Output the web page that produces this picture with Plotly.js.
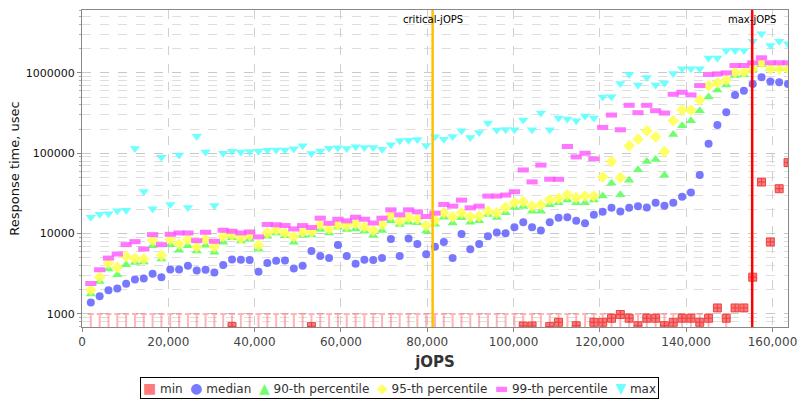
<!DOCTYPE html>
<html>
<head>
<meta charset="utf-8">
<script src="https://cdn.plot.ly/plotly-3.0.1.min.js"></script>
<style>
  body { margin: 0; background: white; }
  #rt_chart { width: 800px; height: 400px; }
</style>
</head>
<body>
<div id="rt_chart"></div>
<script>
// jOPS steps (x axis)
let jops = [2045, 4090, 6135, 8180, 10225, 12270, 14315, 16360, 18405, 20450,
  22495, 24540, 26585, 28630, 30675, 32720, 34765, 36810, 38855, 40900,
  42945, 44990, 47035, 49080, 51125, 53170, 55215, 57260, 59305, 61350,
  63395, 65440, 67485, 69530, 71575, 73620, 75665, 77710, 79755, 81800,
  83845, 85890, 87935, 89980, 92025, 94070, 96115, 98160, 100205, 102250,
  104295, 106340, 108385, 110430, 112475, 114520, 116565, 118610, 120655, 122700,
  124745, 126790, 128835, 130880, 132925, 134970, 137015, 139060, 141105, 143150,
  145195, 147240, 149285, 151330, 153375, 155420, 157465, 159510, 161555, 163600];

// min response times, null = below the visible range
let minRt = [null, null, null, null, null, null, null, null, null, null,
  null, null, null, null, null, null, 700, null, null, null,
  null, null, null, null, null, 700, null, null, null, null,
  null, null, null, null, null, null, null, null, null, null,
  null, null, null, null, null, null, null, null, null, 710,
  710, null, 700, 788, null, 715, null, 788, 788, 885,
  985, 885, 715, 885, 885, 715, 788, 885, 885, 788,
  885, 1190, 885, 1190, 1190, 2870, 43800, 7870, 36200, 76400];

let medianRt = [1386, 1663, 1976, 2073, 2372, 2690, 2766, 3162, 2873, 3586,
  3586, 3981, 3486, 3548, 3290, 4060, 4775, 4730, 4690, 3360,
  4300, 4600, 4640, 3690, 3981, 6070, 5260, 4964, 7190, 5260,
  4210, 4730, 4690, 4964, 8590, 5260, 8670, 7420, 5520, 6880,
  7870, 4964, 9900, 6370, 7420, 9260, 10290, 10100, 12000, 13880,
  12000, 10900, 13880, 15700, 16000, 14440, 13440, 17120, 18650, 20930,
  18840, 20930, 21960, 21130, 24150, 22180, 24150, 28730, 32540, 53600,
  130900, 224000, 322500, 531000, 601000, 729000, 883000, 779000, 764000, 729000];

let p90Rt = [1778, 2536, 3617, 3073, 4100, 4380, 4420, 7080, 4825, 7290,
  6190, 7080, 6070, 7150, 5848, 7790, 8900, 8100, 8590, 6370,
  9260, 10190, 9430, 7790, 9530, 9620, 11220, 10190, 12000, 11220,
  11440, 10700, 9530, 10900, 14440, 12950, 13880, 13600, 10700, 13070,
  16000, 13570, 15700, 13880, 14440, 17270, 15849, 18130, 21160, 21760,
  19000, 19000, 22810, 24200, 26100, 24200, 24200, 26100, 29300, 42170,
  30400, 45970, 62500, 78700, 83300, 53100, 171200, 219600, 253600, 338000,
  501000, 613000, 708000, 926000, 944000, 1090000, 1259000, 1122000, 1122000, 1122000];

let p95Rt = [1995, 2873, 4300, 3795, 5207, 4917, 4825, 8252, 5370, 8417,
  7420, 8417, 6838, 8500, 6838, 9260, 9625, 8750, 9530, 7200,
  10190, 11110, 10190, 9170, 10490, 10490, 12950, 11440, 12830, 12589,
  13320, 12100, 10900, 12950, 16800, 14300, 15849, 15240, 12589, 14700,
  18130, 16160, 18130, 16160, 16470, 19000, 18130, 21160, 24200, 24900,
  21960, 22810, 26360, 27380, 30400, 28100, 29300, 29300, 50600, 78700,
  49670, 123600, 149600, 190000, 160000, 105000, 253600, 344700, 344700, 459700,
  695000, 750000, 817600, 1019000, 1019000, 1122000, 1321000, 1122000, 1122000, 1122000];

let p99Rt = [2395, 3548, 4964, 5573, 7287, 7943, 6432, 9716, 7287, 9800,
  10190, 10190, 8177, 10390, 8020, 11000, 10700, 10190, 10490, 9100,
  13000, 12880, 12590, 11440, 12590, 11900, 15550, 13440, 15100, 14400,
  16000, 15100, 13570, 15550, 19760, 17120, 19760, 18650, 16310, 17970,
  23050, 21960, 26100, 20930, 21960, 29300, 29300, 30170, 33200, 61900,
  44000, 71200, 47500, 47330, 121200, 90000, 100000, 85200, 209400, 298500,
  195800, 394700, 319500, 394700, 338000, 316200, 541000, 573000, 531000, 695000,
  953000, 971700, 1000000, 1235000, 1235000, 1334000, 1540000, 1334000, 1334000, 1334000];

let maxRt = [16000, 17445, 17600, 19200, 19570, 114400, 33490, 20340, 89100, 23050,
  95300, 21160, 163100, 103900, 22390, 100000, 105900, 103900, 104900, 105900,
  109000, 110000, 110000, 113300, 123600, 99000, 106900, 115500, 116600, 114400,
  120000, 117700, 117700, 112200, 127100, 142700, 145500, 148300, 124700, 160000,
  149600, 161500, 190000, 157000, 181000, 237000, 194000, 198000, 196000, 259000,
  196000, 316000, 196000, 273900, 266100, 253600, 290000, 273900, 501000, 506000,
  736000, 962000, 708000, 874000, 708000, 750000, 981000, 1122000, 1122000, 1122000,
  1525000, 1525000, 1902000, 1902000, 1902000, 2465000, 3073000, 2196000, 2465000, 2304000];

let seriesNames = ["min", "median", "90-th percentile", "95-th percentile", "99-th percentile", "max"];
let seriesColors = ["rgba(255,85,85,0.8)", "rgba(85,85,255,0.8)", "rgba(85,255,85,0.85)",
  "rgba(255,255,85,0.9)", "rgba(255,85,255,0.8)", "rgba(85,255,255,0.85)"];
let legendGlyphs = ["■", "●", "▲", "◆", "▬", "▼"];

let criticalJops = 81250;
let maxJops = 155300;

// points whose min is under 1000 get the little stick hanging from the 1000 line
let lowX = [];
let lowY = [];
for (let i = 0; i < jops.length; i++) {
  if (minRt[i] === null || minRt[i] < 1000) {
    lowX.push(jops[i]);
    lowY.push(1000);
  }
}

let lowTrace = {
  x: lowX,
  y: lowY,
  type: "scatter",
  mode: "markers",
  hoverinfo: "skip",
  marker: { size: 1, opacity: 0 },
  error_y: {
    type: "data",
    symmetric: false,
    array: lowX.map(() => 0),
    arrayminus: lowX.map(() => 999),
    color: "rgba(255,120,120,0.55)",
    thickness: 2,
    width: 3
  }
};

function series(i, y, symbol, size, lineColor) {
  return {
    x: jops,
    y: y,
    type: "scatter",
    mode: "markers",
    name: seriesNames[i],
    marker: {
      symbol: symbol,
      size: size,
      color: seriesColors[i],
      line: { width: lineColor ? 1 : 0, color: lineColor || seriesColors[i] }
    }
  };
}

let data = [
  lowTrace,
  series(0, minRt, "square-cross", 8, "rgba(230,60,60,0.9)"),
  series(1, medianRt, "circle", 8),
  series(2, p90Rt, "triangle-up", 9),
  series(3, p95Rt, "diamond", 9),
  {
    x: jops,
    y: p99Rt,
    type: "scatter",
    mode: "markers",
    name: seriesNames[4],
    marker: { symbol: "line-ew", size: 8, line: { width: 5, color: seriesColors[4] } }
  },
  series(5, maxRt, "triangle-down", 9)
];

// legend drawn as one boxed text line so the spacing stays tight
let legendText = seriesNames.map((name, i) =>
  '<span style="color:' + seriesColors[i] + ';font-size:14px">' + legendGlyphs[i] + '</span> ' + name
).join("&nbsp;&nbsp;");

let layout = {
  width: 800,
  height: 400,
  margin: { l: 82, r: 12, t: 10, b: 73 },
  paper_bgcolor: "white",
  plot_bgcolor: "white",
  font: { family: "DejaVu Sans, sans-serif", size: 12, color: "#333" },
  showlegend: false,
  xaxis: {
    title: { text: "jOPS", font: { size: 15, color: "#333", family: "DejaVu Sans, sans-serif", weight: "bold" }, standoff: 8 },
    range: [0, 163600],
    tick0: 0,
    dtick: 20000,
    tickformat: ",d",
    ticks: "outside",
    ticklen: 4,
    tickcolor: "#888",
    tickfont: { size: 12, color: "#444" },
    showgrid: true,
    gridcolor: "#d0d0d0",
    griddash: "dash",
    showline: true,
    linecolor: "#888",
    mirror: true,
    zeroline: false
  },
  yaxis: {
    title: { text: "Response time, usec", font: { size: 13, color: "#111" }, standoff: 3 },
    type: "log",
    range: [2.838, 6.782],
    dtick: 1,
    tickformat: "d",
    ticks: "outside",
    ticklen: 4,
    tickcolor: "#888",
    tickfont: { size: 11, color: "#111" },
    showgrid: true,
    gridcolor: "#c8c8c8",
    griddash: "dash",
    minor: {
      dtick: "D1",
      ticks: "outside",
      ticklen: 2,
      tickcolor: "#aaa",
      showgrid: true,
      gridcolor: "#dedede",
      griddash: "dash"
    },
    showline: true,
    linecolor: "#888",
    mirror: true,
    zeroline: false
  },
  shapes: [
    { type: "line", xref: "x", yref: "paper", x0: criticalJops, x1: criticalJops, y0: 0, y1: 1,
      line: { color: "#ffc000", width: 2.5 } },
    { type: "line", xref: "x", yref: "paper", x0: maxJops, x1: maxJops, y0: 0, y1: 1,
      line: { color: "#ff0000", width: 2.5 } }
  ],
  annotations: [
    { x: criticalJops, y: 1, xref: "x", yref: "paper", yanchor: "top", yshift: -2,
      text: "critical-jOPS", showarrow: false, font: { size: 10, color: "black" } },
    { x: maxJops, y: 1, xref: "x", yref: "paper", yanchor: "top", yshift: -2,
      text: "max-jOPS", showarrow: false, font: { size: 10, color: "black" } },
    { x: 0.45, y: -0.192, xref: "paper", yref: "paper", xanchor: "center", yanchor: "middle",
      text: legendText, showarrow: false, bordercolor: "black", borderwidth: 1, borderpad: 2,
      bgcolor: "white", font: { size: 12, color: "#333" } }
  ]
};

Plotly.newPlot("rt_chart", data, layout, { displayModeBar: false, staticPlot: true });
</script>
</body>
</html>
